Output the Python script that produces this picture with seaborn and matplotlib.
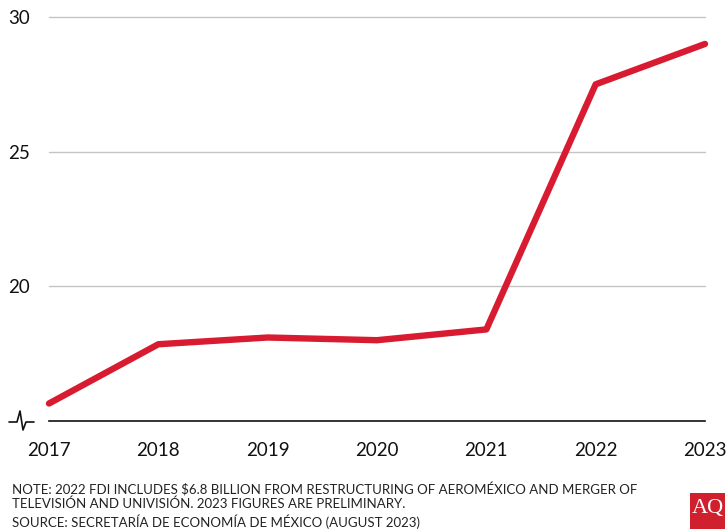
import matplotlib
matplotlib.use("Agg")
import matplotlib.pyplot as plt
from matplotlib.lines import Line2D
from matplotlib.patches import Rectangle
import pandas as pd
import seaborn as sns

# FDI inflows into Mexico, billions USD
years = [2017, 2018, 2019, 2020, 2021, 2022, 2023]
fdi = [15.65, 17.85, 18.1, 18.0, 18.4, 27.5, 29.0]
y_ticks = [20, 25, 30]

note_lines = ["NOTE: 2022 FDI INCLUDES $6.8 BILLION FROM RESTRUCTURING OF AEROMÉXICO AND MERGER OF",
              "TELEVISIÓN AND UNIVISIÓN. 2023 FIGURES ARE PRELIMINARY."]
source = "SOURCE: SECRETARÍA DE ECONOMÍA DE MÉXICO (AUGUST 2023)"

df = pd.DataFrame({"year": years, "fdi": fdi})

sns.set_style("white")
plt.rcParams["font.family"] = ["Lato", "DejaVu Sans"]

W, H = 728, 529
fig = plt.figure(figsize=(W / 100, H / 100), dpi=100)
# axes box in pixels: left 49, right 705, top 17, bottom 421
ax = fig.add_axes([49 / W, 1 - 421 / H, (705 - 49) / W, (421 - 17) / H])

sns.lineplot(data=df, x="year", y="fdi", ax=ax, color="#d81b30",
             linewidth=4.6, solid_capstyle="round", clip_on=False, zorder=3)

ax.set_xlim(2017, 2023)
ax.set_ylim(15, 30)
ax.set_xticks(years)
ax.set_xticklabels([str(y) for y in years], fontsize=13.5, color="#111111")
ax.set_yticks(y_ticks)
ax.set_yticklabels([str(v) for v in y_ticks], fontsize=13.5, color="#111111")
ax.set_xlabel("")
ax.set_ylabel("")

for v in y_ticks:
    ax.axhline(v, color="#c4c4c4", linewidth=1.0, zorder=1, clip_on=False)

for s in ["top", "right", "left"]:
    ax.spines[s].set_visible(False)
ax.spines["bottom"].set_color("#111111")
ax.spines["bottom"].set_linewidth(1.2)

ax.tick_params(axis="x", direction="out", length=9, width=1.2, color="#111111", pad=6)
ax.tick_params(axis="y", length=0, pad=14)

# axis break symbol
bx = [9, 17, 20, 23, 26, 34]
by = [422, 422, 411, 430, 422, 422]
fig.add_artist(Line2D([x / W for x in bx], [1 - y / H for y in by],
                      color="#111111", linewidth=1.2, transform=fig.transFigure))

# notes
fig.text(12 / W, 1 - 490 / H, note_lines[0], fontsize=9.5, color="#222222", va="center")
fig.text(12 / W, 1 - 504 / H, note_lines[1], fontsize=9.5, color="#222222", va="center")
fig.text(12 / W, 1 - 522 / H, source, fontsize=9.5, color="#222222", va="center")

# AQ logo
fig.add_artist(Rectangle((690 / W, 0), 35 / W, 36 / H, transform=fig.transFigure,
                         facecolor="#d0202e", edgecolor="none"))
fig.text(707.5 / W, 1 - 509 / H, "AQ", fontsize=16, color="white", ha="center", va="center",
         family=["Liberation Serif", "DejaVu Serif"])

fig.savefig("out.png", dpi=100, facecolor="white")
